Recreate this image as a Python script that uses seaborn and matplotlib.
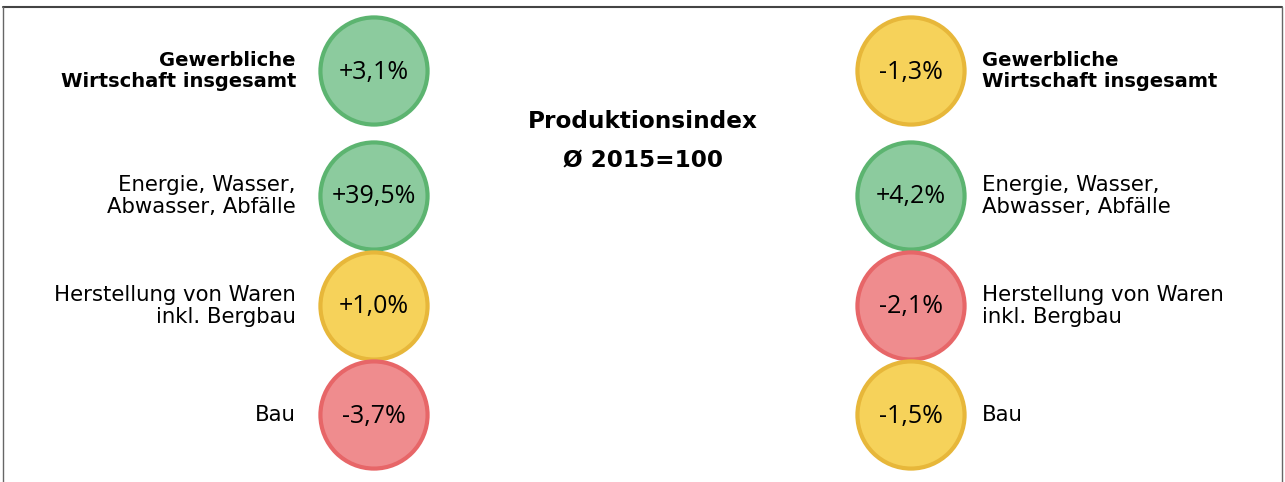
import matplotlib
matplotlib.use("Agg")
import matplotlib.pyplot as plt
import seaborn as sns
import pandas as pd

# data
categories = ["Gewerbliche\nWirtschaft insgesamt", "Energie, Wasser,\nAbwasser, Abfälle",
              "Herstellung von Waren\ninkl. Bergbau", "Bau"]
left_values = ["+3,1%", "+39,5%", "+1,0%", "-3,7%"]
left_status = ["gut", "gut", "mittel", "schlecht"]
right_values = ["-1,3%", "+4,2%", "-2,1%", "-1,5%"]
right_status = ["mittel", "gut", "schlecht", "mittel"]
title_lines = ["Produktionsindex", "Ø 2015=100"]

# layout (pixel coordinates)
col_x = {"links": 374, "rechts": 911}
row_y = [71, 196, 306, 415]
fill = {"gut": "#8ccb9e", "mittel": "#f6d25a", "schlecht": "#ef8c8e"}
edge = {"gut": "#5cb470", "mittel": "#e7b73a", "schlecht": "#e76668"}

df = pd.DataFrame({
    "seite": ["links"] * 4 + ["rechts"] * 4,
    "zeile": list(range(4)) * 2,
    "wert": left_values + right_values,
    "status": left_status + right_status,
})
df["x"] = df["seite"].map(col_x)
df["y"] = df["zeile"].map(lambda i: row_y[i])

sns.set_style("white")
plt.rcParams["font.family"] = ["Open Sans", "DejaVu Sans"]
plt.rcParams["text.color"] = "black"

fig = plt.figure(figsize=(12.85, 4.82), dpi=100)
ax = fig.add_axes([0, 0, 1, 1])
ax.set_xlim(0, 1285)
ax.set_ylim(482, 0)
ax.axis("off")

sns.scatterplot(data=df, x="x", y="y", hue="status", palette=fill, s=5950,
                linewidth=3.0, legend=False, ax=ax, zorder=2)
ax.collections[0].set_edgecolor([edge[s] for s in df["status"]])

for _, r in df.iterrows():
    ax.text(r["x"], r["y"] + 1, r["wert"], ha="center", va="center", fontsize=18, zorder=3)

# category labels
for i, cat in enumerate(categories):
    bold = "bold" if i == 0 else "normal"
    size = 14 if i == 0 else 15.3
    ax.text(296, row_y[i], cat, ha="right", va="center", fontsize=size,
            fontweight=bold, linespacing=1.1, family="DejaVu Sans")
    ax.text(982, row_y[i], cat, ha="left", va="center", fontsize=size,
            fontweight=bold, linespacing=1.1, multialignment="left", family="DejaVu Sans")

ax.text(643, 121, title_lines[0], ha="center", va="center", fontsize=16.7,
        fontweight="bold", family="DejaVu Sans")
ax.text(643, 161, title_lines[1], ha="center", va="center", fontsize=16.7,
        fontweight="bold", family="DejaVu Sans")

# frame
ax.plot([3, 1282], [7, 7], color="#444444", lw=1.5, zorder=1)
ax.plot([3, 3], [7, 482], color="#666666", lw=1, zorder=1)
ax.plot([1282, 1282], [7, 482], color="#666666", lw=1, zorder=1)

fig.savefig("out.png", dpi=100)
